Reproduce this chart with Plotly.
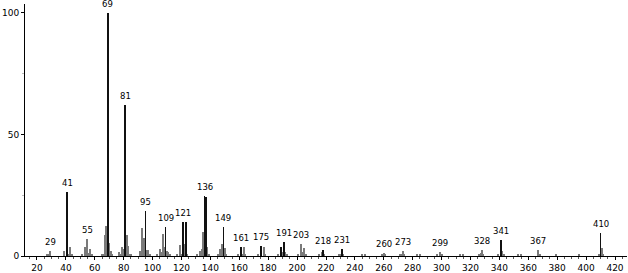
import plotly.graph_objects as go

# Major (black) peaks
mz_major = [41, 69, 81, 95, 109, 121, 123, 136, 137, 149, 161, 175, 189, 191, 218, 231, 341, 410]
int_major = [26.3, 100, 62.3, 18.6, 12.0, 14.0, 14.0, 24.8, 24.4, 12.0, 3.6, 4.1, 3.8, 5.9, 2.5, 2.9, 6.6, 9.6]

# Minor (gray) peaks
mz_minor = [27, 28, 29, 39, 42, 43, 44, 51, 53, 54, 55, 56, 57, 58, 65, 66, 67, 68, 70, 71, 72,
            77, 78, 79, 80, 82, 83, 84, 85, 91, 92, 93, 94, 96, 97, 98, 103, 105, 106, 107, 108,
            110, 111, 112, 117, 119, 120, 122, 124, 131, 133, 134, 135, 138, 139, 145, 147, 148,
            150, 151, 159, 162, 163, 164, 173, 177, 178, 187, 190, 192, 193, 201, 203, 204, 205,
            206, 215, 217, 219, 229, 230, 232, 245, 247, 259, 260, 261, 271, 272, 273, 274, 283,
            285, 297, 299, 300, 313, 315, 326, 327, 328, 329, 339, 342, 343, 353, 355, 367, 368,
            379, 395, 409, 411, 412]
int_minor = [1.0, 0.6, 2.0, 2.0, 1.0, 3.7, 0.5, 0.5, 3.5, 1.0, 6.8, 1.2, 2.7, 0.5, 0.8, 0.6, 8.5, 12.3, 5.5, 2.2, 0.5,
             1.6, 1.0, 3.8, 2.8, 8.6, 4.0, 0.8, 0.6, 2.2, 2.0, 11.6, 7.3, 2.5, 2.5, 0.5, 0.5, 2.7, 1.5, 9.0, 3.5,
             2.0, 1.8, 0.5, 0.5, 4.5, 1.0, 5.0, 0.5, 0.6, 2.0, 3.0, 10.0, 3.5, 0.8, 0.8, 3.0, 4.8,
             3.2, 0.8, 0.8, 1.0, 3.5, 0.6, 0.6, 3.5, 0.6, 0.6, 1.5, 1.5, 0.6, 0.6, 4.8, 1.5, 3.4,
             0.6, 0.6, 1.5, 0.7, 0.6, 0.6, 0.7, 0.5, 0.5, 0.6, 1.1, 0.5, 0.6, 0.8, 2.0, 0.6, 0.5,
             0.6, 0.6, 1.8, 0.6, 0.5, 0.5, 0.8, 1.2, 2.5, 1.0, 0.6, 1.9, 0.5, 0.5, 0.5, 2.5, 0.6,
             0.5, 0.5, 0.8, 3.2, 0.6]

# Peak labels
label_mz = [29, 41, 55, 69, 81, 95, 109, 121, 136, 149, 161, 175, 191, 203, 218, 231, 260, 273, 299, 328, 341, 367, 410]

x_ticks = [20, 40, 60, 80, 100, 120, 140, 160, 180, 200, 220, 240, 260, 280, 300, 320, 340, 360, 380, 400, 420]
y_ticks = [0, 50, 100]

fig = go.Figure()
fig.add_trace(go.Bar(x=mz_minor, y=int_minor, width=0.8, marker=dict(color="#7a7a7a", line=dict(width=0)),
                     showlegend=False))
fig.add_trace(go.Bar(x=mz_major, y=int_major, width=0.5, marker=dict(color="#111111", line=dict(width=0)),
                     showlegend=False))

lookup = {}
for m, v in zip(mz_minor, int_minor):
    lookup[m] = max(lookup.get(m, 0), v)
for m, v in zip(mz_major, int_major):
    lookup[m] = max(lookup.get(m, 0), v)

for m in label_mz:
    fig.add_annotation(x=m, y=lookup.get(m, 0), text=str(m), showarrow=False,
                       yanchor="bottom", yshift=2, font=dict(family="DejaVu Sans", size=8.5, color="black"))

fig.update_layout(
    width=628, height=273,
    margin=dict(l=25, r=1, t=4, b=17),
    plot_bgcolor="white", paper_bgcolor="white",
    barmode="overlay", bargap=0,
    font=dict(family="DejaVu Sans", size=9, color="black"),
)
fig.update_xaxes(range=[11.7, 428.3], tickvals=x_ticks, ticktext=[str(t) for t in x_ticks],
                 showgrid=False, zeroline=False, showline=True, linecolor="black", linewidth=1,
                 ticks="outside", ticklen=3, tickcolor="black",
                 minor=dict(dtick=5, tick0=0, ticks="outside", ticklen=2, tickcolor="#555"))
fig.update_yaxes(range=[0, 103.7], tickvals=y_ticks, ticktext=[str(t) for t in y_ticks],
                 showgrid=False, zeroline=False, showline=True, linecolor="black", linewidth=1,
                 ticks="outside", ticklen=3, tickcolor="black",
                 minor=dict(dtick=25, tick0=0, ticks="outside", ticklen=2, tickcolor="#bbb"))

fig.write_html("out.html")
